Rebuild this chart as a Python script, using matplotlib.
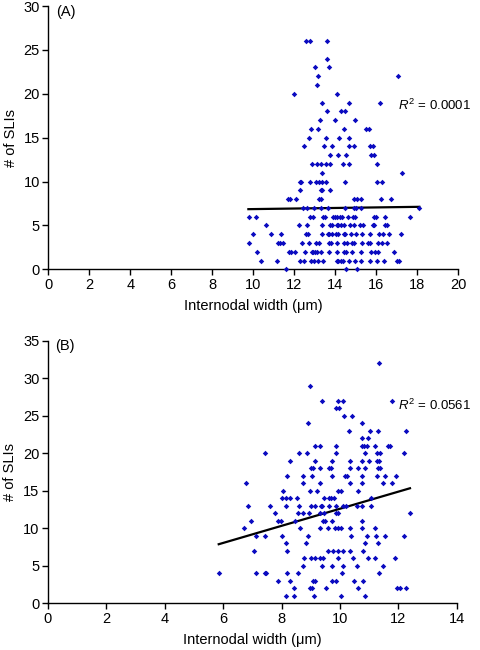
import matplotlib
matplotlib.use("Agg")
import matplotlib.pyplot as plt
import numpy as np

plt.rcParams['font.family'] = ['Liberation Sans', 'DejaVu Sans']
plt.rcParams['mathtext.fontset'] = 'custom'
plt.rcParams['mathtext.it'] = 'Liberation Sans:italic'
plt.rcParams['mathtext.rm'] = 'Liberation Sans'

# ---------------- Panel A data ----------------
a_rows = {
    26: [12.57, 12.77, 13.61],
    24: [13.6],
    23: [13.0, 13.7],
    22: [13.17, 17.06],
    21: [13.1],
    20: [11.99, 14.08],
    19: [13.34, 14.67, 16.2],
    18: [13.6, 14.28, 14.49],
    17: [13.24, 13.97, 14.97],
    16: [12.81, 13.17, 14.41, 15.51, 15.63],
    15: [12.73, 13.53, 14.16, 14.67],
    14: [12.46, 13.43, 13.84, 14.68, 14.9, 15.7, 15.86],
    13: [13.74, 14.15, 14.51, 15.75, 15.9],
    12: [12.88, 13.12, 13.32, 13.53, 13.74, 14.36, 14.68, 16.02],
    11: [13.37, 17.24],
    10: [12.28, 12.34, 12.75, 13.06, 13.19, 13.37, 13.55, 14.47, 16.05, 16.27],
    9: [12.28, 13.29, 13.35, 13.74],
    8: [11.69, 11.8, 12.07, 13.2, 13.32, 14.93, 15.08, 15.26, 16.22, 16.72],
    7: [12.44, 12.62, 12.95, 13.32, 13.65, 14.47, 14.91, 15.02, 15.26, 18.1],
    6: [9.78, 10.15, 12.77, 12.91, 13.41, 13.48, 13.9, 14.0, 14.1, 14.21, 14.31,
        14.6, 14.85, 14.95, 15.89, 15.97, 16.41, 17.64],
    5: [10.62, 12.24, 12.62, 13.35, 13.73, 13.84, 14.07, 14.15, 14.29, 14.42, 14.7,
        14.9, 15.19, 15.34, 15.82, 15.9, 16.42, 16.5],
    4: [9.97, 10.85, 11.34, 12.59, 12.68, 13.37, 13.63, 13.71, 13.82, 14.05, 14.15,
        14.41, 14.49, 14.78, 15.01, 15.32, 15.71, 16.15, 16.34, 16.62, 17.19],
    3: [9.78, 11.22, 11.3, 11.46, 12.38, 12.73, 13.07, 13.22, 13.71, 13.79, 14.07,
        14.42, 14.56, 14.8, 14.9, 15.32, 15.61, 15.69, 16.1, 16.27, 16.5],
    2: [10.2, 11.76, 11.84, 12.05, 12.54, 12.86, 12.93, 13.01, 13.12, 13.29, 13.69,
        14.1, 14.44, 14.52, 14.81, 15.24, 15.76, 15.92, 16.07, 16.88],
    1: [10.36, 11.14, 12.29, 12.49, 12.81, 12.98, 13.17, 13.39, 14.07, 14.15, 14.28,
        14.39, 14.65, 14.98, 15.24, 15.69, 16.03, 16.37, 16.99, 17.12],
    0: [11.6, 14.5, 15.06],
}
a_x = [x for y, xs in a_rows.items() for x in xs]
a_y = [y for y, xs in a_rows.items() for x in xs]
a_fit = (6.54, 0.032)        # intercept, slope
a_fit_range = (9.76, 18.1)
a_r2 = "0.0001"

# ---------------- Panel B data ----------------
b_rows = {
    32: [11.35],
    29: [8.97],
    27: [9.37, 9.93, 10.11, 11.77],
    26: [9.86, 9.98],
    25: [10.15, 10.42],
    24: [8.9, 10.75],
    23: [10.32, 11.03, 11.3, 12.26],
    22: [10.75, 10.95],
    21: [9.15, 9.31, 9.86, 10.75, 10.82, 10.92, 11.2, 11.66, 11.73],
    20: [7.45, 8.6, 8.88, 9.86, 10.87, 11.28, 11.37, 12.2],
    19: [8.3, 9.15, 9.73, 10.34, 10.75, 11.0, 11.28, 11.34],
    18: [9.0, 9.08, 9.31, 9.61, 9.68, 10.34, 10.63, 10.87, 11.31, 11.37],
    17: [8.18, 8.72, 9.06, 9.73, 10.18, 10.23, 10.75, 11.28, 11.53, 11.93],
    16: [6.77, 8.72, 9.31, 10.34, 10.75, 11.47, 11.77],
    15: [8.06, 8.97, 9.22, 9.92, 10.03, 10.63],
    14: [8.01, 8.14, 8.3, 8.52, 9.46, 9.61, 9.68, 9.8, 11.05],
    13: [6.84, 7.61, 8.14, 8.6, 9.0, 9.14, 9.34, 9.38, 9.61, 9.86, 10.11, 10.2,
         10.57, 10.74, 11.05],
    12: [7.78, 8.57, 8.72, 8.94, 9.31, 9.46, 9.86, 9.94, 12.4],
    11: [6.95, 7.88, 7.99, 8.45, 9.43, 9.5, 9.72, 10.75],
    10: [6.72, 8.63, 9.31, 9.6, 9.83, 9.92, 10.03, 10.34, 10.75, 11.2],
    9: [7.14, 7.45, 8.01, 8.9, 10.38, 10.92, 11.25, 11.55, 12.21],
    8: [8.15, 8.83, 10.87, 11.3],
    7: [7.07, 8.18, 9.6, 9.75, 9.93, 10.11, 10.34, 10.8],
    6: [8.76, 9.0, 9.14, 9.31, 9.43, 9.93, 10.46, 10.95, 11.2, 11.89],
    5: [8.72, 9.38, 9.73, 10.11, 10.57, 11.47],
    4: [5.86, 7.14, 7.43, 7.47, 8.18, 8.57, 10.06, 11.35],
    3: [7.88, 8.28, 9.08, 9.14, 9.72, 9.86, 10.48, 10.8],
    2: [8.43, 8.97, 9.04, 9.52, 10.63, 11.94, 12.06, 12.26],
    1: [8.15, 8.43, 9.11, 10.03, 10.87],
}
b_x = [x for y, xs in b_rows.items() for x in xs]
b_y = [y for y, xs in b_rows.items() for x in xs]
b_fit = (1.21, 1.139)
b_fit_range = (5.85, 12.4)
b_r2 = "0.0561"

xlabel = "Internodal width (\u03bcm)"
ylabel = "# of SLIs"

fig = plt.figure(figsize=(4.8, 6.5), dpi=100)
W, H = 480, 650

def make_ax(left, right, top, bottom):
    return fig.add_axes([left / W, 1 - bottom / H, (right - left) / W, (bottom - top) / H])

axA = make_ax(48.3, 458.3, 6.0, 269.3)
axB = make_ax(47.9, 456.7, 340.7, 603.3)

pt_color = '#0a0ac0'
FS = 10.5

def style(ax, xmax, ymax, step_x, step_y, tag, fit, frange, r2, r2pos, x, y):
    ax.plot(x, y, linestyle='none', marker='D', ms=2.8, color=pt_color,
            markeredgewidth=0, zorder=3, clip_on=False)
    xx = np.array(frange)
    ax.plot(xx, fit[0] + fit[1] * xx, color='black', lw=1.6, zorder=2)
    ax.set_xlim(0, xmax)
    ax.set_ylim(0, ymax)
    ax.set_xticks(np.arange(0, xmax + 0.1, step_x))
    ax.set_yticks(np.arange(0, ymax + 0.1, step_y))
    for s in ['top', 'right']:
        ax.spines[s].set_visible(False)
    for s in ['left', 'bottom']:
        ax.spines[s].set_linewidth(1.0)
    ax.tick_params(direction='out', length=4, width=1, labelsize=FS, pad=2)
    ax.set_xlabel(xlabel, fontsize=FS, va='center')
    ax.set_ylabel(ylabel, fontsize=FS, va='center')
    ax.xaxis.set_label_coords(0.5, -0.14)
    ax.yaxis.set_label_coords(-0.092, 0.5)
    ax.text(0.018, 0.978, tag, transform=ax.transAxes, fontsize=FS,
            ha='left', va='center')
    ax.text(r2pos[0], r2pos[1], r"$R^2$ = " + r2, fontsize=9.5,
            ha='right', va='center', transform=fig.transFigure)
    ax.patch.set_alpha(0)

style(axA, 20, 30, 2, 5, "(A)", a_fit, a_fit_range, a_r2,
      (471 / W, 1 - 105 / H), a_x, a_y)
style(axB, 14, 35, 2, 5, "(B)", b_fit, b_fit_range, b_r2,
      (471 / W, 1 - 405 / H), b_x, b_y)

fig.savefig("out.png", dpi=100)
